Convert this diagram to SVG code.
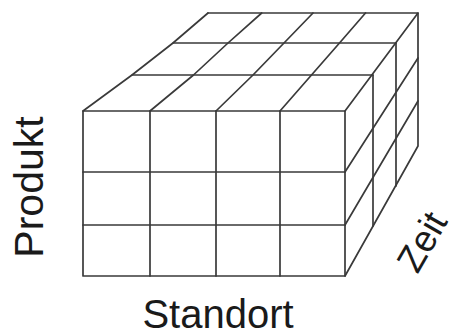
<svg xmlns="http://www.w3.org/2000/svg" width="454" height="335" viewBox="0 0 454 335">
<style>
.g{fill:none;stroke:#3a3a3a;stroke-width:1.7;stroke-linecap:round;stroke-linejoin:round}
.t{font-family:"Liberation Sans",Arial,sans-serif;fill:#1a1a1a;text-anchor:middle}
</style>
<rect width="454" height="335" fill="#fff"/>
<g id="front" class="g">
<path d="M83 111H345V276H83Z"/>
<path d="M150 111V276M216 111V276M280 111V276"/>
<path d="M83 172H345M83 225H345"/>
</g>
<g id="top" class="g">
<polyline points="83,111 132,75 173,43 208,13"/>
<path d="M208 13H418L345 111"/>
<path d="M132 75H373M173 43H396"/>
<polyline points="150,111 193.5,75 228,43 261.7,13"/>
<polyline points="216,111 253,75 284,43 313,13"/>
<polyline points="280,111 311.5,75 339.5,43 365.5,13"/>
</g>
<g id="side" class="g">
<path d="M418 13V146L345 276"/>
<path d="M373 75V226M396 43V186"/>
<path d="M345 172L418 58M345 225L418 101"/>
</g>
<text class="t" font-size="41" transform="translate(43 187) rotate(-90)">Produkt</text>
<text class="t" font-size="40" x="218" y="328">Standort</text>
<text class="t" font-size="37" transform="translate(433 248) rotate(-60)">Zeit</text>
</svg>
